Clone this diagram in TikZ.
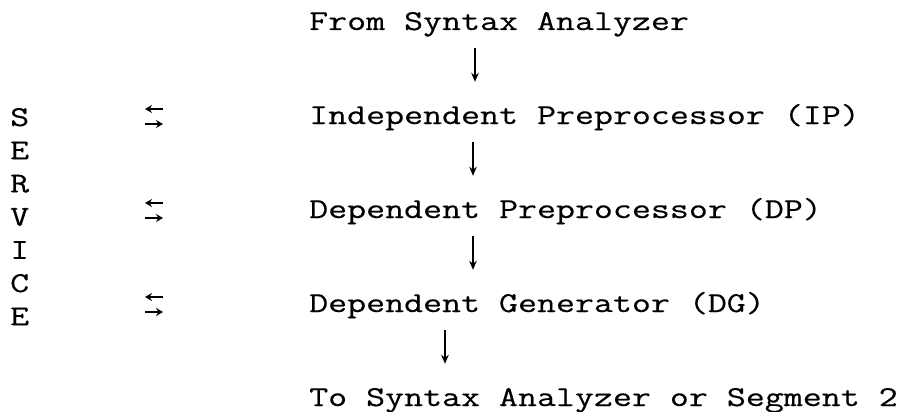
\documentclass[tikz,border=0pt]{standalone}
\usepackage{fontspec}
\newfontfamily\typer{Latin Modern Mono}[FakeStretch=1.28,FakeBold=0.4]
\usetikzlibrary{arrows.meta,positioning}

\begin{document}
\begin{tikzpicture}[x=1pt,y=-1pt,
    row/.style={font=\typer\fontsize{28.8}{34}\selectfont,
      inner sep=0pt,text height=20pt,text depth=6pt,anchor=base west},
    flow/.style={-{Stealth[length=9pt,width=7.5pt]},line width=1.6pt,
      shorten <=12pt,shorten >=22pt},
    xchg/.style={-{Stealth[length=7pt,width=8pt]},line width=1.5pt}]

  \useasboundingbox (0,0) rectangle (910,412);

  % the chain of passes
  \node[row] (from) at (309,30) {From Syntax Analyzer};
  \node[row,below=94pt of from.base west,anchor=base west] (ip) {Independent Preprocessor (IP)};
  \node[row,below=94pt of ip.base west,anchor=base west] (dp) {Dependent Preprocessor (DP)};
  \node[row,below=94pt of dp.base west,anchor=base west] (dg) {Dependent Generator (DG)};
  \node[row,below=94pt of dg.base west,anchor=base west] (to) {To Syntax Analyzer or Segment 2};

  \draw[flow] ([xshift=166pt]from.south west) -- ([xshift=166pt]ip.north west);
  \draw[flow] ([xshift=164pt]ip.south west) -- ([xshift=164pt]dp.north west);
  \draw[flow] ([xshift=164pt]dp.south west) -- ([xshift=164pt]dg.north west);
  \draw[flow] ([xshift=136pt]dg.south west) -- ([xshift=136pt]to.north west);

  % service column, written downwards
  \foreach \ch [count=\i] in {S,E,R,V,I,C,E}
    \node[row] (svc\i) at (10,{126+33.2*(\i-1)}) {\ch};

  % two-way traffic with the service routines
  \foreach \r in {ip,dp,dg}{
    \draw[xchg] ([xshift=-146pt,yshift=15pt]\r.base west) -- ++(-18,0);
    \draw[xchg] ([xshift=-164pt,yshift=0pt]\r.base west) -- ++(18,0);
  }
\end{tikzpicture}
\end{document}
